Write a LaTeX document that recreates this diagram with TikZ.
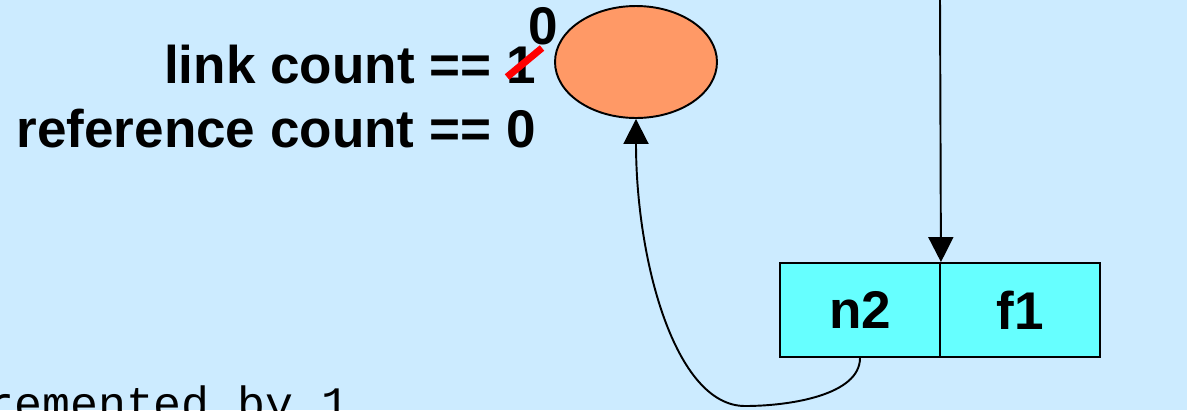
\documentclass[tikz,border=0pt]{standalone}
\usepackage{fontspec}
\setmainfont{Liberation Sans}
\newfontfamily\monofont{Liberation Mono}
\usetikzlibrary{arrows.meta, shapes.geometric}
\definecolor{bgblue}{RGB}{204,235,255}
\definecolor{inodeorange}{RGB}{255,153,102}
\definecolor{cellcyan}{RGB}{102,255,255}
\begin{document}
\begin{tikzpicture}[x=0.02cm, y=-0.02cm,
        label/.style={font=\fontsize{30.2}{34}\selectfont\bfseries, inner sep=0pt},
        cell/.style={rectangle, draw=black, fill=cellcyan, line width=1.1pt, minimum width=3.2cm, minimum height=1.88cm, inner sep=0pt, font=\fontsize{30.2}{34}\selectfont\bfseries},
        inode/.style={ellipse, draw=black, fill=inodeorange, line width=1.1pt, minimum width=3.24cm, minimum height=2.24cm, inner sep=0pt},
        link/.style={line width=1.1pt, -{Triangle[length=0.5cm, width=0.5cm]}}
    ]
        \useasboundingbox[fill=bgblue] (0,0) rectangle (1187,410);

        \node[inode] (file) at (636,62) {};
        \node[cell] (n2cell) at (860,310) {n2};
        \node[cell] (f1cell) at (1020,310) {f1};
        \coordinate (dirtop) at (940,-2);

        \node[label, anchor=base east] (linkcnt) at (536,83) {link count == 1};
        \node[label, anchor=base east] (refcnt) at (536,147) {reference count == 0};
        \node[label, anchor=base west] (newcnt) at (528,44) {0};
        \draw[red, line width=4pt] (507,77) -- (542,48);

        \node[font=\monofont\fontsize{26.5}{30}\selectfont, anchor=base west, inner sep=0pt] (decr) at (-14,419) {remented by 1};

        \draw[link] (dirtop) -- (n2cell.north east);
        \draw[link] (n2cell.south) .. controls (860,395) and (790,406) .. (745,406)
            .. controls (675,406) and (636,260) .. (file.south);
    \end{tikzpicture}
\end{document}
